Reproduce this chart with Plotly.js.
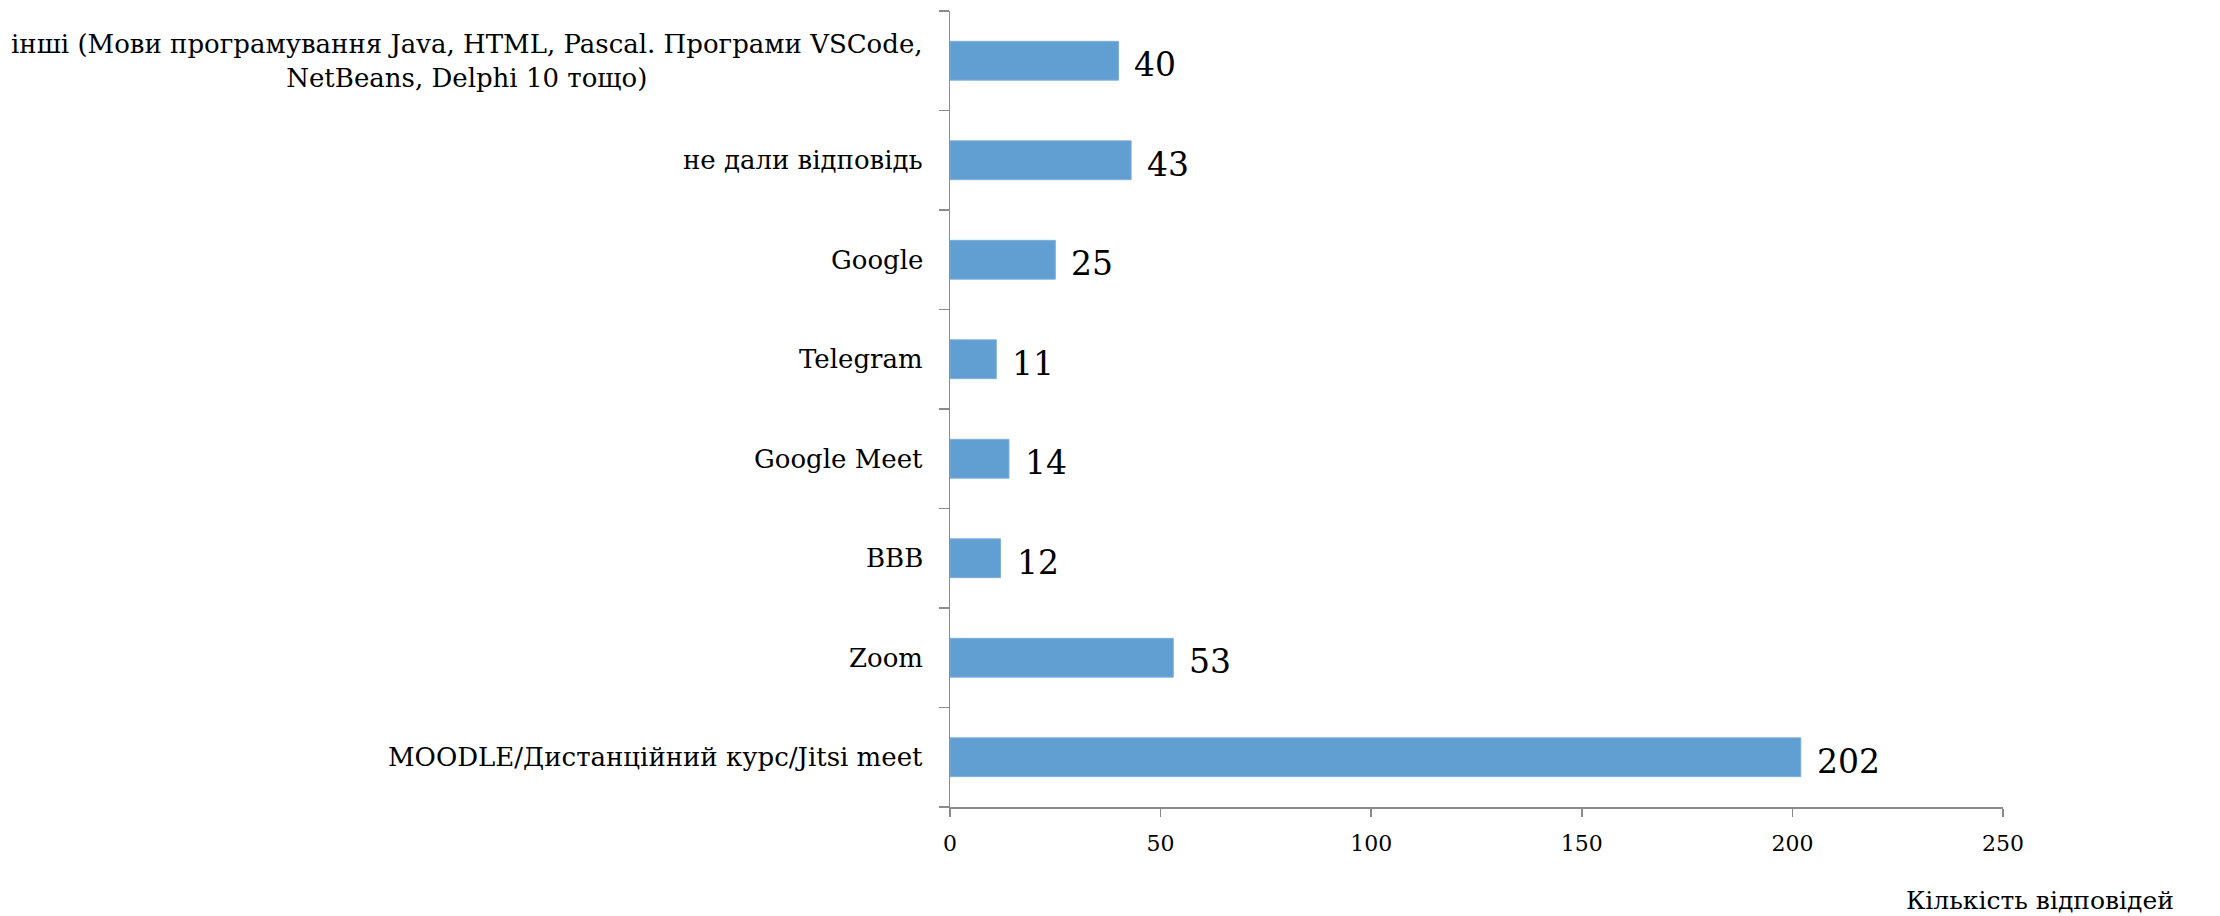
<!DOCTYPE html>
<html>
<head>
<meta charset="utf-8">
<script src="https://cdn.plot.ly/plotly-3.0.1.min.js"></script>
<style>
  html, body { margin: 0; padding: 0; background: #fff; }
  #chart { width: 2220px; height: 916px; }
</style>
</head>
<body>
<div id="chart"></div>
<script>
// bottom to top, as plotly stacks categories
var categories = [
    "MOODLE/Дистанційний курс/Jitsi meet",
    "Zoom",
    "BBB",
    "Google Meet",
    "Telegram",
    "Google",
    "не дали відповідь",
    "інші (Мови програмування Java, HTML, Pascal. Програми VSCode,<br>NetBeans, Delphi 10 тощо)"
];
var counts = [202, 53, 12, 14, 11, 25, 43, 40];
var xTicks = [0, 50, 100, 150, 200, 250];
var xTitle = "Кількість відповідей";

var FONT = "DejaVu Serif, Georgia, serif";
var AXIS = "#8c8c8c";

var annotations = [];
categories.forEach(function (c) {
    annotations.push({
        xref: "paper", yref: "y", x: 0, y: c,
        xanchor: "right", yanchor: "middle", xshift: -25,
        align: "center", showarrow: false, text: c,
        font: { family: FONT, size: 26, color: "#000" }
    });
});
categories.forEach(function (c, i) {
    annotations.push({
        xref: "x", yref: "y", x: counts[i], y: c,
        xanchor: "left", yanchor: "middle", xshift: 14, yshift: -4,
        showarrow: false, text: String(counts[i]),
        font: { family: FONT, size: 33, color: "#000" }
    });
});
annotations.push({
    xref: "paper", yref: "paper", x: 1.164, y: -0.118,
    xanchor: "right", yanchor: "middle", showarrow: false,
    text: xTitle, font: { family: FONT, size: 25, color: "#000" }
});

var layout = {
    width: 2220,
    height: 916,
    margin: { l: 950, r: 217, t: 11, b: 109 },
    paper_bgcolor: "#fff",
    plot_bgcolor: "#fff",
    showlegend: false,
    bargap: 0.61,
    xaxis: {
        range: [0, 250],
        tickvals: xTicks,
        ticks: "outside", ticklen: 8, tickwidth: 1.5, tickcolor: AXIS,
        ticklabelstandoff: 8,
        showline: true, linecolor: AXIS, linewidth: 1.5,
        showgrid: false, zeroline: false,
        tickfont: { family: FONT, size: 22, color: "#000" }
    },
    yaxis: {
        type: "category",
        categoryorder: "array", categoryarray: categories,
        range: [-0.5, categories.length - 0.5],
        tickson: "boundaries",
        ticks: "outside", ticklen: 10, tickwidth: 1.5, tickcolor: AXIS,
        showticklabels: false,
        showline: true, linecolor: AXIS, linewidth: 1.5,
        showgrid: false, zeroline: false
    },
    annotations: annotations
};

Plotly.newPlot("chart", [{
    type: "bar",
    orientation: "h",
    x: counts,
    y: categories,
    marker: { color: "#619ed1", line: { color: "#7fb0da", width: 1 } },
    hoverinfo: "none"
}], layout, { staticPlot: true });
</script>
</body>
</html>
